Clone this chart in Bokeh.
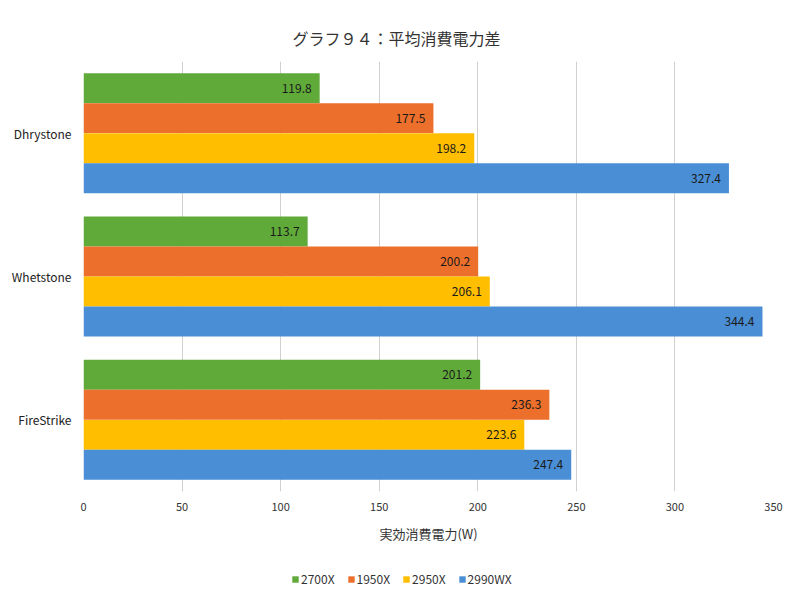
from bokeh.plotting import figure
from bokeh.layouts import column
from bokeh.models import FactorRange, Range1d, ColumnDataSource, Legend, LegendItem, FixedTicker
from bokeh.transform import dodge
from bokeh.core.properties import value
from bokeh.embed import file_html
from bokeh.resources import INLINE

categories = ["Dhrystone", "Whetstone", "FireStrike"]
series = ["2700X", "1950X", "2950X", "2990WX"]
v_2700x = [119.8, 113.7, 201.2]
v_1950x = [177.5, 200.2, 236.3]
v_2950x = [198.2, 206.1, 223.6]
v_2990wx = [327.4, 344.4, 247.4]
colors = ["#60AA3A", "#EC6F2B", "#FFBE00", "#4A8FD5"]
x_ticks = [0, 50, 100, 150, 200, 250, 300, 350]

FONT = "Noto Sans CJK JP"

p = figure(width=784, height=560, output_backend="svg", toolbar_location=None,
           y_range=FactorRange(factors=list(reversed(categories)), range_padding=0),
           x_range=Range1d(0, 350),
           min_border_left=83, min_border_right=11, min_border_top=61, min_border_bottom=69)

p.title.text = "グラフ９４：平均消費電力差"
p.title.align = "left"
p.title.offset = 209
p.title.text_font = FONT
p.title.text_font_size = "16px"
p.title.text_font_style = "normal"
p.title.text_color = "#333333"
p.title.standoff = 24

offsets = [0.314, 0.105, -0.105, -0.314]
vals = [v_2700x, v_1950x, v_2950x, v_2990wx]
for name, vs, col, off in zip(series, vals, colors, offsets):
    src = ColumnDataSource(dict(cat=categories, v=vs, lab=["%.1f" % x for x in vs]))
    p.hbar(y=dodge("cat", off, range=p.y_range), right="v", left=0, height=0.209,
           source=src, fill_color=col, line_color=None)
    p.text(x="v", y=dodge("cat", off, range=p.y_range), text="lab", source=src,
           x_offset=-8, text_align="right", text_baseline="middle",
           text_font=value(FONT), text_font_size="12px", text_color="#1A1A1A")

p.xaxis.ticker = FixedTicker(ticks=x_ticks)
p.xaxis.axis_line_color = None
p.xaxis.major_tick_line_color = None
p.xaxis.minor_tick_line_color = None
p.xaxis.major_label_standoff = 5
p.xaxis.major_label_text_font = FONT
p.xaxis.major_label_text_font_size = "11px"
p.xaxis.major_label_text_color = "#333333"
p.xaxis.axis_label = "実効消費電力(W)"
p.xaxis.axis_label_text_font = FONT
p.xaxis.axis_label_text_font_size = "13px"
p.xaxis.axis_label_text_font_style = "normal"
p.xaxis.axis_label_text_color = "#333333"
p.xaxis.axis_label_standoff = 10

p.yaxis.axis_line_color = None
p.yaxis.major_tick_line_color = None
p.yaxis.minor_tick_line_color = None
p.yaxis.major_label_standoff = 6
p.yaxis.major_label_text_font = FONT
p.yaxis.major_label_text_font_size = "12px"
p.yaxis.major_label_text_color = "#222222"

p.ygrid.grid_line_color = None
p.xgrid.grid_line_color = "#D0D0D0"
p.xgrid.ticker = FixedTicker(ticks=x_ticks)
p.outline_line_color = None

# legend strip
pl = figure(width=784, height=28, output_backend="svg", toolbar_location=None,
            x_range=Range1d(0, 1), y_range=Range1d(0, 1),
            min_border=0, x_axis_type=None, y_axis_type=None)
pl.grid.visible = False
pl.outline_line_color = None
items = []
for name, col in zip(series, colors):
    # swatch-only renderer placed outside the visible range
    r = pl.hbar(y=[-5], right=[-5], left=-6, height=0.5, fill_color=col, line_color=None)
    items.append(LegendItem(label=name, renderers=[r]))
legend = Legend(items=items, orientation="horizontal", location=(208, 1),
                glyph_width=8, glyph_height=8, label_standoff=2, spacing=12,
                padding=0, margin=0, border_line_color=None, background_fill_alpha=0,
                label_text_font=FONT, label_text_font_size="12px", label_text_color="#333333")
pl.add_layout(legend, "center")

layout = column(p, pl, spacing=0)
open("out.html", "w").write(file_html(layout, INLINE))
